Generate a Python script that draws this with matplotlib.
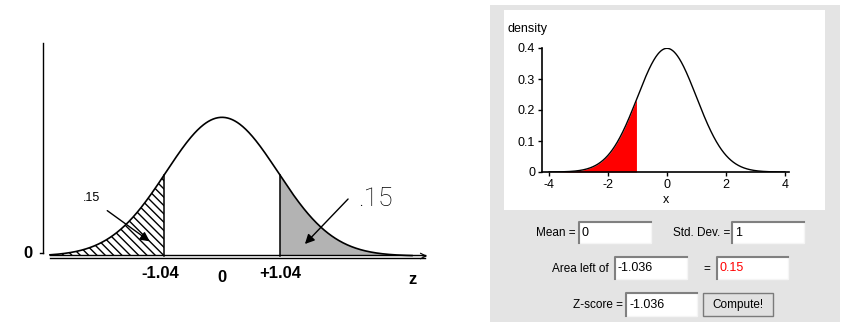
import numpy as np
import matplotlib
matplotlib.use("Agg")
import matplotlib.pyplot as plt
from matplotlib.patches import Rectangle, FancyArrowPatch

plt.rcParams['font.family'] = ['Liberation Sans', 'DejaVu Sans']

# ---- values shown in the chart ----
mean = 0.0
std_dev = 1.0
cut_z = 1.04            # two-tailed cut-off drawn on the sketch
tail_area = 0.15        # area in each tail
z_score = -1.036        # z-score computed by the applet
area_left = 0.15
sketch_ticks = [-1.04, 0.0, 1.04]
sketch_tick_labels = ["-1.04", "0", "+1.04"]
applet_xticks = [-4, -2, 0, 2, 4]
applet_yticks = [0, 0.1, 0.2, 0.3, 0.4]
applet_yticklabels = ["0", "0.1", "0.2", "0.3", "0.4"]


def pdf(x, m=0.0, s=1.0):
    return np.exp(-0.5 * ((x - m) / s) ** 2) / (s * np.sqrt(2 * np.pi))


W, H = 846, 330
fig = plt.figure(figsize=(W / 100, H / 100), dpi=100)
fig.patch.set_facecolor("white")

# pixel-space layer for the panel backgrounds and form controls
bg = fig.add_axes([0, 0, 1, 1], zorder=0)
bg.set_xlim(0, W)
bg.set_ylim(H, 0)
bg.axis("off")

# ---------------- left: hand sketch ----------------
PX_PER_Z = 55.8
PX_PER_D = 347.6
X0, Y0 = 222, 256          # pixel location of z = 0, density = 0
sk = fig.add_axes([0, 0, 480 / W, 1], zorder=1)
sk.set_xlim((0 - X0) / PX_PER_Z, (480 - X0) / PX_PER_Z)
sk.set_ylim((Y0 - H) / PX_PER_D, Y0 / PX_PER_D)
sk.axis("off")
sk.patch.set_alpha(0)


def zx(px):
    return (px - X0) / PX_PER_Z


def dy(py):
    return (Y0 - py) / PX_PER_D


z = np.linspace(zx(50), zx(412), 600)
sk.plot(z, pdf(z), color="black", lw=1.2)

zl = np.linspace(zx(50), -cut_z, 200)
sk.fill_between(zl, 0, pdf(zl), facecolor="white", edgecolor="black",
                hatch="\\\\\\\\", linewidth=0)
zr = np.linspace(cut_z, zx(405), 200)
sk.fill_between(zr, 0, pdf(zr), facecolor="#b3b3b3", edgecolor="none")
for c in (-cut_z, cut_z):
    sk.plot([c, c], [0, pdf(c)], color="black", lw=1.1)

# y axis with the single "0" tick
sk.plot([zx(43), zx(43)], [dy(43), dy(253)], color="black", lw=1)
sk.plot([zx(40), zx(43)], [dy(253), dy(253)], color="black", lw=1)
sk.text(zx(28), dy(253), "0", fontsize=12, fontweight="bold",
        ha="center", va="center")

# baseline with open arrowhead
sk.plot([zx(50), zx(425)], [dy(255), dy(255)], color="black", lw=1)
sk.plot([zx(50), zx(425)], [dy(257.5), dy(257.5)], color="black", lw=1)
sk.annotate("", xy=(zx(430), dy(256)), xytext=(zx(420), dy(256)),
            arrowprops=dict(arrowstyle="->", lw=0.8, color="black",
                            mutation_scale=10))

for t, lab in zip(sketch_ticks, sketch_tick_labels):
    sk.text(t - 0.07 if t < 0 else t, dy(274) if t != 0 else dy(277), lab,
            fontsize=12, fontweight="bold", ha="center", va="center")
sk.text(zx(412), dy(280), "z", fontsize=12, fontweight="bold",
        ha="center", va="center")

sk.text(zx(91), dy(198), ".15", fontsize=9, ha="center", va="center")
sk.text(zx(375), dy(199), ".15", fontsize=19, ha="center", va="center",
        family=["Roboto", "DejaVu Sans"], fontweight="light", color="black")

for (x1, y1), (x2, y2) in [((105, 209), (152, 243)), ((350, 197), (303, 246))]:
    sk.add_patch(FancyArrowPatch((zx(x1), dy(y1)), (zx(x2), dy(y2)),
                                 arrowstyle="-|>", mutation_scale=14,
                                 color="black", lw=1))

# ---------------- right: applet panel ----------------
bg.add_patch(Rectangle((490, 5), 350, 317, facecolor="#e4e4e4", edgecolor="none"))
bg.add_patch(Rectangle((504, 10), 321, 200, facecolor="white", edgecolor="none"))

ax = fig.add_axes([542 / W, (H - 172) / H, (789 - 542) / W, 124 / H], zorder=2)
ax.patch.set_alpha(0)
ax.set_xlim(-4.24, 4.14)
ax.set_ylim(0, 0.4)
x = np.linspace(-4, 4, 600)
ax.plot(x, pdf(x, mean, std_dev), color="black", lw=1)
xf = np.linspace(-4, z_score, 200)
ax.fill_between(xf, 0, pdf(xf, mean, std_dev), color="#ff0000", linewidth=0)
for s in ("top", "right"):
    ax.spines[s].set_visible(False)
for s in ("left", "bottom"):
    ax.spines[s].set_linewidth(1.2)
ax.set_xticks(applet_xticks)
ax.set_xticklabels([str(v) for v in applet_xticks])
ax.set_yticks(applet_yticks)
ax.set_yticklabels(applet_yticklabels)
ax.tick_params(length=3, width=1, labelsize=9, pad=2)
ax.set_xlabel("x", fontsize=9, labelpad=2)
bg.text(508, 29, "density", fontsize=9, ha="left", va="center")

# form controls


def textbox(x0, y0, x1, y1, value, color="black"):
    bg.add_patch(Rectangle((x0, y0), x1 - x0, y1 - y0, facecolor="white",
                           edgecolor="#f5f5f5", lw=1))
    bg.plot([x0, x0, x1], [y1, y0, y0], color="#808080", lw=1.5)
    bg.text(x0 + 3, (y0 + y1) / 2, value, fontsize=9, ha="left",
            va="center", color=color)


def label(xr, yc, s, ha="right"):
    bg.text(xr, yc, s, fontsize=8.5, ha=ha, va="center")


label(576, 233, "Mean =")
textbox(579, 222, 651, 243, f"{mean:g}")
label(730, 233, "Std. Dev. =")
textbox(732, 222, 804, 243, f"{std_dev:g}")

label(609, 269, "Area left of")
textbox(615, 257, 687, 279, f"{z_score:g}")
label(707, 269, "=", ha="center")
textbox(717, 257, 788, 279, f"{area_left:g}", color="#ff0000")

label(623, 305, "Z-score =")
textbox(626, 293, 697, 316, f"{z_score:g}")
bg.add_patch(Rectangle((703, 293), 70, 23, facecolor="#e1e1e1",
                       edgecolor="#7a7a7a", lw=1))
bg.text(738, 305, "Compute!", fontsize=8.5, ha="center", va="center")

fig.savefig("out.png", dpi=100)
